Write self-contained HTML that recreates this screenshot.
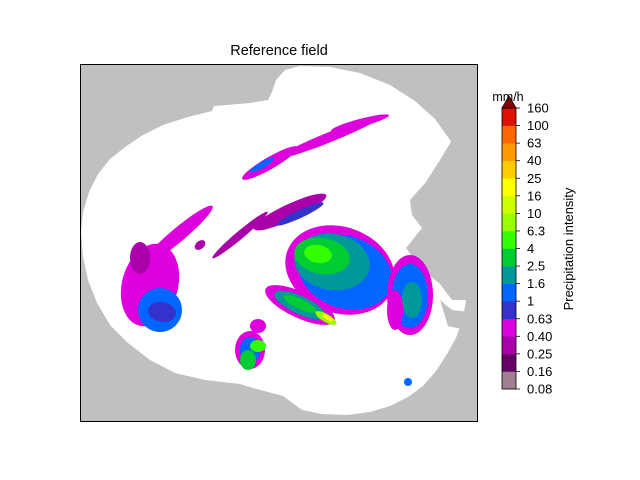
<!DOCTYPE html>
<html><head><meta charset="utf-8"><style>
body{margin:0;background:#fff;font-family:"Liberation Sans","DejaVu Sans",sans-serif}
svg{display:block}
</style></head><body>
<svg id="fig" width="640" height="480" viewBox="0 0 640 480">
<rect width="640" height="480" fill="#fff"/>
<text x="279" y="55" font-size="14.5" text-anchor="middle">Reference field</text>
<defs><clipPath id="axclip"><rect x="80" y="64" width="397" height="357"/></clipPath></defs>
<g clip-path="url(#axclip)">
<rect x="80" y="64" width="397" height="357" fill="#c0c0c0"/>
<path d="M81 232 L83 212 L89 192 L98 174 L110 159 L125 147 L143 135 L163 125 L188 117 L212 111 L214 106 L250 103 L268 100 L272 92 L276 80 L285 70 L300 66 L330 67 L360 73 L390 85 L415 101 L435 119 L450 140 L461 165 L467 195 L469 230 L469 270 L466 300 L463 318 L456 338 L447 354 L436 371 L423 386 L408 397 L390 406 L370 412 L347 415 L322 414 L302 410 L283 396 L253 388 L240 384 L205 380 L175 373 L150 360 L128 343 L110 325 L97 303 L88 280 L83 257 Z" fill="#fff"/>
<path d="M477 125 L452 140 L440 160 L426 182 L410 200 L412 215 L422 228 L406 248 L420 268 L440 284 L452 300 L477 300 Z" fill="#c0c0c0"/>
<path d="M440 300 L452 310 L470 312 L466 330 L448 326 Z" fill="#c0c0c0"/>
<g id="blobs"></g>
</g>
<rect x="80.5" y="64.5" width="397" height="357" fill="none" stroke="#000" stroke-width="1"/>
<g id="cbar"></g>
<text x="508" y="101" font-size="12.5" text-anchor="middle">mm/h</text>
<text transform="translate(573,249) rotate(-90)" font-size="13" text-anchor="middle">Precipitation intensity</text>
</svg>
<script>
const tickLabels=["0.08","0.16","0.25","0.40","0.63","1","1.6","2.5","4","6.3","10","16","25","40","63","100","160"];
const levelColors=["#a08090","#660066","#aa00aa","#dd00dd","#3333cc","#0066ff","#009999","#00cc33","#33ff00","#99ff00","#ccff00","#ffff00","#ffcc00","#ff9900","#ff6600","#dd1100"];
// precipitation cells: centre x, centre y, radius x, radius y, rotation, level index
const cellX=[330,360,270,262,240,290,300,178,150,160,140,162,340,345,332,322,318,410,410,412,300,300,300,326,328,250,250,248,258,258,408,200,395];
const cellY=[137,123,163,165,235,212,214,235,285,310,258,312,270,272,262,256,254,295,296,300,305,305,304,318,318,350,350,360,346,326,382,245,310];
const cellRX=[55,30,32,14,36,40,26,45,28,22,10,14,56,48,38,28,14,23,18,10,38,28,18,12,6,15,10,8,8,8,4,6,8];
const cellRY=[5,4,6,3,4,8,4,7,42,22,16,10,43,36,28,18,9,40,32,18,13,9,5,4,2,19,13,10,6,7,4,4,20];
const cellRot=[-22,-15,-30,-30,-40,-25,-25,-40,15,10,0,10,20,20,10,10,10,0,0,0,25,25,25,30,30,0,0,0,0,0,0,-40,0];
const cellLevel=[3,3,3,5,2,2,4,3,3,5,2,4,3,5,6,7,8,3,5,6,3,6,7,9,11,3,5,7,8,3,5,2,3];
const NS="http://www.w3.org/2000/svg";
const blobs=document.getElementById('blobs');
for(let i=0;i<cellX.length;i++){
  const e=document.createElementNS(NS,'ellipse');
  e.setAttribute('cx',cellX[i]);e.setAttribute('cy',cellY[i]);
  e.setAttribute('rx',cellRX[i]);e.setAttribute('ry',cellRY[i]);
  e.setAttribute('transform','rotate('+cellRot[i]+' '+cellX[i]+' '+cellY[i]+')');
  e.setAttribute('fill',levelColors[cellLevel[i]]);
  
  
  blobs.appendChild(e);
}
// colorbar
const cb=document.getElementById('cbar');
const cbX=502,cbW=14,cbTop=108,cbBot=389;
const n=levelColors.length, h=(cbBot-cbTop)/n;
function yOf(k){return cbBot-k*h;}
for(let k=0;k<n;k++){
  const r=document.createElementNS(NS,'rect');
  r.setAttribute('x',cbX);r.setAttribute('y',yOf(k+1));r.setAttribute('width',cbW);r.setAttribute('height',h+0.3);
  r.setAttribute('fill',levelColors[k]);
  
  
  cb.appendChild(r);
}
const tri=document.createElementNS(NS,'path');
tri.setAttribute('d','M'+cbX+' '+cbTop+' L'+(cbX+cbW/2)+' 96 L'+(cbX+cbW)+' '+cbTop+' Z');
tri.setAttribute('fill','#880000');tri.setAttribute('stroke','#000');tri.setAttribute('stroke-width','0.8');


cb.appendChild(tri);
const fr=document.createElementNS(NS,'rect');
fr.setAttribute('x',cbX);fr.setAttribute('y',cbTop);fr.setAttribute('width',cbW);fr.setAttribute('height',cbBot-cbTop);
fr.setAttribute('fill','none');fr.setAttribute('stroke','#000');fr.setAttribute('stroke-width','0.8');


cb.appendChild(fr);
for(let k=0;k<tickLabels.length;k++){
  const y=yOf(k);
  const l=document.createElementNS(NS,'line');
  l.setAttribute('x1',cbX+cbW);l.setAttribute('x2',cbX+cbW+4);l.setAttribute('y1',y);l.setAttribute('y2',y);
  l.setAttribute('stroke','#000');l.setAttribute('stroke-width','0.8');
  
  
  cb.appendChild(l);
  const t=document.createElementNS(NS,'text');
  t.setAttribute('x',cbX+cbW+11);t.setAttribute('y',y+4.5);t.setAttribute('font-size','13');
  t.textContent=tickLabels[k];
  
  
  cb.appendChild(t);
}
</script>
</body></html>
